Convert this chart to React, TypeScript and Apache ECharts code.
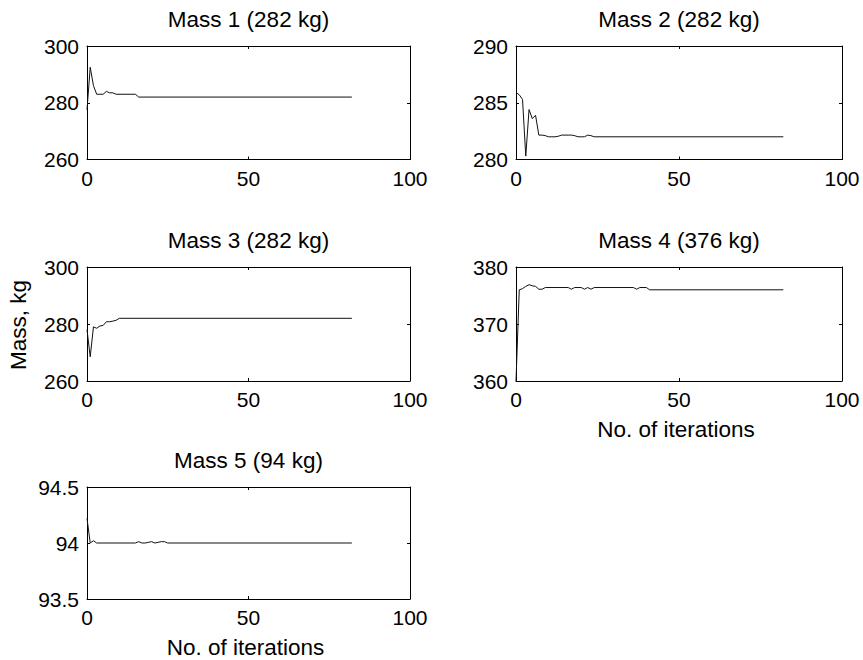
import React, { useEffect, useRef } from "react";
import * as echarts from "echarts";

// ---- data ----
const titles = ["Mass 1 (282 kg)", "Mass 2 (282 kg)", "Mass 3 (282 kg)", "Mass 4 (376 kg)", "Mass 5 (94 kg)"];
const xMin = 0;
const xMax = 100;
const xInterval = 50;
const yMins = [260, 280, 260, 360, 93.5];
const yMaxs = [300, 290, 300, 380, 94.5];
const yIntervals = [20, 5, 20, 10, 0.5];

// [iteration, mass]
const mass1: [number, number][] = [
  [0, 277.5], [1, 292.5], [2, 286], [3, 283], [4, 283], [5, 283], [6, 284], [7, 283.5],
  [8, 283.5], [9, 283], [15, 283], [16, 282], [82, 282],
];
const mass2: [number, number][] = [
  [0, 285.9], [1, 285.7], [2, 285.3], [3, 280.3], [4, 284.4], [5, 283.6], [6, 283.9], [7, 282.15],
  [8, 282.15], [9, 282.1], [10, 282.0], [11, 282.0], [12, 282.0], [13, 282.05], [14, 282.15],
  [15, 282.15], [16, 282.15], [17, 282.15], [18, 282.1], [19, 282.0], [20, 282.0], [21, 282.0],
  [22, 282.15], [23, 282.1], [24, 282.0], [82, 282.0],
];
const mass3: [number, number][] = [
  [0, 278], [1, 268.5], [2, 279], [3, 278.5], [4, 279.3], [5, 279.5], [6, 280.8], [7, 280.8],
  [8, 281], [9, 281.3], [10, 282], [82, 282],
];
const mass4: [number, number][] = [
  [0, 360], [1, 376.0], [2, 376.2], [3, 376.6], [4, 376.9], [5, 376.7], [6, 376.6], [7, 376.1],
  [8, 376.1], [9, 376.4], [16, 376.4], [17, 376.1], [18, 376.4], [20, 376.4], [21, 376.1],
  [22, 376.4], [23, 376.1], [24, 376.4], [36, 376.4], [37, 376.1], [38, 376.4], [40, 376.4],
  [41, 376.0], [82, 376.0],
];
const mass5: [number, number][] = [
  [0, 94.22], [1, 94.0], [2, 94.02], [3, 94.0], [15, 94.0], [16, 94.012], [17, 94.0], [18, 94.0],
  [19, 94.006], [20, 94.012], [21, 94.0], [22, 94.006], [23, 94.012], [24, 94.012], [25, 94.0],
  [82, 94.0],
];
const allSeries = [mass1, mass2, mass3, mass4, mass5];
const yLabel = "Mass, kg";
const xLabel = "No. of iterations";

const FONT = "'Liberation Sans', Arial, Helvetica, sans-serif";
const FS = 21;
const FS_TEXT = 22.5;

// grid boxes: left, top, width, height (pixels)
const boxes = [
  [87, 46, 323, 113.5],
  [516, 46, 326, 113.5],
  [87, 267, 323, 114],
  [516, 267, 326, 114],
  [87, 487, 323, 112],
];

export default function App() {
  const ref = useRef<HTMLDivElement>(null);
  useEffect(() => {
    if (!ref.current) return;
    const chart = echarts.init(ref.current, undefined, { renderer: "svg" });
    const grid: any[] = [];
    const xAxis: any[] = [];
    const yAxis: any[] = [];
    const series: any[] = [];
    const graphic: any[] = [];
    const lineStyle = { color: "#000", width: 1 };
    boxes.forEach((b, g) => {
      grid.push({ left: b[0], top: b[1], width: b[2], height: b[3], containLabel: false });
      const baseX = {
        type: "value",
        gridIndex: g,
        min: xMin,
        max: xMax,
        interval: xInterval,
        splitLine: { show: false },
        axisLine: { show: true, onZero: false, lineStyle },
        axisTick: { show: true, inside: true, length: 3, lineStyle },
      };
      xAxis.push({
        ...baseX,
        position: "bottom",
        axisLabel: { show: true, color: "#000", fontSize: FS, fontFamily: FONT, margin: 8 },
      });
      xAxis.push({ ...baseX, position: "top", axisLabel: { show: false } });
      const baseY = {
        type: "value",
        gridIndex: g,
        min: yMins[g],
        max: yMaxs[g],
        interval: yIntervals[g],
        splitLine: { show: false },
        axisLine: { show: true, onZero: false, lineStyle },
        axisTick: { show: true, inside: true, length: 3, lineStyle },
      };
      yAxis.push({
        ...baseY,
        position: "left",
        axisLabel: { show: true, color: "#000", fontSize: FS, fontFamily: FONT, margin: 8 },
      });
      yAxis.push({ ...baseY, position: "right", axisLabel: { show: false } });
      series.push({
        type: "line",
        xAxisIndex: 2 * g,
        yAxisIndex: 2 * g,
        data: allSeries[g],
        showSymbol: false,
        symbol: "none",
        lineStyle: { color: "#111", width: 1 },
        silent: true,
      });
      graphic.push({
        type: "text",
        x: b[0] + b[2] / 2,
        y: b[1] - 27,
        style: {
          text: titles[g],
          fontSize: FS_TEXT,
          fontFamily: FONT,
          fill: "#000",
          textAlign: "center",
          textVerticalAlign: "middle",
        },
      });
    });
    graphic.push({
      type: "text",
      x: 18,
      y: 325,
      rotation: Math.PI / 2,
      style: {
        text: yLabel,
        fontSize: FS_TEXT,
        fontFamily: FONT,
        fill: "#000",
        textAlign: "center",
        textVerticalAlign: "middle",
      },
    });
    [3, 4].forEach((g) => {
      const b = boxes[g];
      graphic.push({
        type: "text",
        x: b[0] + b[2] / 2 - 3,
        y: b[1] + b[3] + 48,
        style: {
          text: xLabel,
          fontSize: FS_TEXT,
          fontFamily: FONT,
          fill: "#000",
          textAlign: "center",
          textVerticalAlign: "middle",
        },
      });
    });
    chart.setOption({
      animation: false,
      backgroundColor: "#fff",
      grid,
      xAxis,
      yAxis,
      series,
      graphic,
    });
    return () => chart.dispose();
  }, []);
  return (
    <div
      ref={ref}
      style={{ position: "absolute", left: 0, top: 0, width: 863, height: 660, background: "#fff" }}
    />
  );
}
